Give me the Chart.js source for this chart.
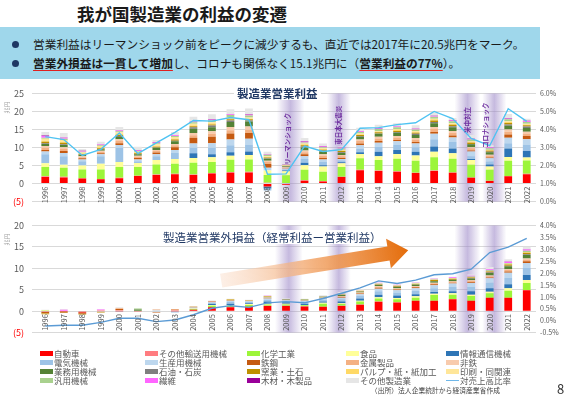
<!DOCTYPE html>
<html lang="ja">
<head>
<meta charset="utf-8">
<title>我が国製造業の利益の変遷</title>
<script src="https://cdn.jsdelivr.net/npm/chart.js@4.4.0/dist/chart.umd.min.js"></script>
<style>
  html, body { margin: 0; padding: 0; }
  body { width: 576px; height: 396px; position: relative; overflow: hidden; background: #fff;
         font-family: "Noto Sans CJK JP", "Noto Sans", sans-serif; color: #1a1a1a; }
  #title { position: absolute; left: 77px; top: 2px; font-size: 17.5px; line-height: 24px; font-weight: bold; white-space: nowrap; }
  #box { position: absolute; left: 0; top: 27px; width: 540px; height: 52px; background: #9fd7eb; }
  .row { position: absolute; left: 33px; font-size: 11.7px; line-height: 16px; white-space: nowrap; }
  .row::before { content: ""; position: absolute; left: -21px; top: 4.5px; width: 7px; height: 7px; border-radius: 50%; background: #1f3864; }
  .u { font-weight: bold; text-decoration: underline; text-decoration-color: #e02020; text-underline-offset: 2px; }
  canvas { position: absolute; left: 0; }
  .ctitle { position: absolute; background: #fff; color: #203864; font-size: 11.5px; line-height: 14px; padding: 0 3px; white-space: nowrap; }
  #legend div { position: absolute; font-size: 8.5px; color: #595959; line-height: 10px; white-space: nowrap; }
  #legend i { display: inline-block; width: 13px; height: 5px; margin-right: 1px; vertical-align: 1px; }
  #source { position: absolute; right: 76px; top: 386px; font-size: 6.8px; line-height: 9px; color: #404040; white-space: nowrap; }
  #page { position: absolute; left: 557px; top: 379px; font-size: 13px; color: #333; }
</style>
</head>
<body>
<div id="title">我が国製造業の利益の変遷</div>
<div id="box">
  <div class="row" style="top:9px">営業利益はリーマンショック前をピークに減少するも、直近では2017年に20.5兆円をマーク。</div>
  <div class="row" style="top:28px"><span class="u">営業外損益は一貫して増加</span>し、コロナも関係なく15.1兆円に（<span class="u">営業利益の77%</span>）。</div>
</div>

<canvas id="opChart" width="576" height="135" style="top:80px"></canvas>
<canvas id="nonOpChart" width="576" height="134" style="top:212px"></canvas>

<div class="ctitle" style="left:234px; top:86px; font-weight:bold">製造業営業利益</div>
<div class="ctitle" style="left:160px; top:230px">製造業営業外損益（経常利益ー営業利益）</div>

<div id="legend"></div>
<div id="source">（出所）法人企業統計から経済産業省作成</div>
<div id="page">8</div>

<script>
// ---- データ（兆円）----
const years = ['1996','1997','1998','1999','2000','2001','2002','2003','2004','2005','2006','2007','2008',
               '2009','2010','2011','2012','2013','2014','2015','2016','2017','2018','2019','2020','2021','2022'];

const seriesNames = ['自動車','その他輸送用機械','化学工業','食品','情報通信機械',
                     '電気機械','生産用機械','鉄鋼','金属製品','非鉄',
                     '業務用機械','石油・石炭','窯業・土石','パルプ・紙・紙加工','印刷・同関連',
                     '汎用機械','繊維','木材・木製品','その他製造業'];
const seriesColors = ['#ff0000','#ff7c80','#9cf53a','#ffff99','#2e75b6',
                      '#9dc3e6','#bdd7ee','#c55a11','#f4b183','#f8cbad',
                      '#548235','#7f7f7f','#bf9000','#ffd966','#ffe699',
                      '#a9d18e','#ff66ff','#990099','#e6e6e6'];

// 営業利益
const opAuto      = [1.8,1.7,1.4,1.2,1.5,2.1,2.4,2.6,2.4,2.8,3.0,3.1,-0.8,-0.3,0.8,0.6,1.8,3.7,3.5,3.3,2.9,3.5,3.0,1.6,0.7,2.0,2.6];
const opTransport = [0.2,0.2,0.1,0.1,0.1,0.1,0.1,0.1,0.1,0.1,0.2,0.2,0.2,-0.1,0.1,0.1,0.1,0.1,0.1,0.1,0.1,0.1,0.1,0.1,0.1,0.1,0.1];
const opChem      = [2.6,2.5,2.4,2.6,3.0,2.4,2.8,2.8,3.3,3.1,3.4,3.4,2.2,2.3,2.9,2.6,2.7,3.2,2.9,3.5,3.3,3.7,3.8,3.5,3.0,4.2,3.7];
const opFood      = [1.0,0.8,1.1,1.6,1.4,1.1,1.2,1.3,1.3,1.3,1.1,1.2,1.2,1.1,1.3,1.4,1.0,1.2,1.1,1.3,1.5,1.5,1.5,1.3,0.9,1.1,0.8];
const opInfo      = [0,0,0,0,0,0,0,0,1.3,0.8,1.0,1.0,-0.6,0.2,0.7,0.4,0.3,0.5,1.2,1.1,1.0,1.5,1.3,0.3,0.6,2.3,1.8];
const opElec      = [2.5,2.4,1.2,2.1,3.9,0.5,1.1,1.7,1.5,1.8,1.9,1.9,-0.5,0.3,1.0,0.9,0.5,1.0,1.4,1.4,1.3,2.0,1.8,0.8,0.8,1.5,1.8];
const opProd      = [0.8,0.9,0.5,0.5,0.8,0.5,0.5,0.8,1.2,1.3,1.6,1.6,0.8,0.2,0.8,0.7,0.4,0.9,1.1,1.0,1.0,1.5,1.3,1.3,0.9,1.5,1.5];
const opSteel     = [0.4,0.5,0.3,0.3,0.5,0.4,0.5,0.8,1.6,1.8,1.7,1.6,1.0,0.1,0.5,0.4,0.3,0.5,0.5,0.4,0.4,0.5,0.5,0.3,0.2,0.9,0.9];
const opMetal     = [0.6,0.6,0.3,0.4,0.6,0.3,0.4,0.5,0.7,0.8,0.9,0.9,0.6,0.2,0.6,0.6,0.5,0.7,0.7,0.7,0.7,0.8,0.8,0.6,0.5,0.8,0.7];
const opNonFerrous= [0.5,0.5,0.3,0.3,0.5,0.3,0.3,0.4,0.6,0.7,0.9,0.9,0.3,0.1,0.5,0.4,0.3,0.4,0.5,0.4,0.4,0.6,0.5,0.3,0.3,0.6,0.5];
const opBusiness  = [0.6,0.6,0.3,0.4,0.6,0.4,0.6,0.7,1.2,1.1,1.4,1.4,0.6,0.2,0.8,0.7,0.6,0.8,0.8,0.9,0.9,1.0,1.0,0.8,0.7,1.0,1.0];
const opOil       = [0.2,0.2,0.1,0.1,0.3,0.1,0.1,0.2,0.4,0.5,0.4,0.3,0.1,0.1,0.3,0.3,0.2,0.2,0.1,0.2,0.3,0.4,0.3,0.1,0.1,0.4,0.4];
const opCeramic   = [0.4,0.4,0.2,0.2,0.3,0.2,0.2,0.3,0.3,0.3,0.3,0.3,0.2,0.1,0.3,0.3,0.3,0.3,0.3,0.3,0.3,0.4,0.4,0.3,0.3,0.4,0.4];
const opPulp      = [0.3,0.3,0.2,0.3,0.3,0.2,0.3,0.3,0.3,0.3,0.3,0.2,0.2,0.1,0.3,0.2,0.2,0.2,0.2,0.3,0.3,0.3,0.2,0.2,0.2,0.3,0.2];
const opPrint     = [0.5,0.5,0.2,0.3,0.4,0.2,0.4,0.4,0.4,0.3,0.3,0.3,0.2,0.1,0.2,0.2,0.2,0.2,0.2,0.2,0.2,0.2,0.2,0.2,0.1,0.2,0.2];
const opGeneral   = [0.3,0.3,0.2,0.2,0.3,0.2,0.3,0.3,0.4,0.5,0.6,0.6,0.4,0.1,0.3,0.3,0.3,0.4,0.5,0.5,0.4,0.5,0.6,0.5,0.4,0.5,0.5];
const opTextile   = [0.5,0.3,0.2,0.2,0.2,0.2,0.2,0.2,0.2,0.2,0.2,0.2,0.1,0.1,0.2,0.2,0.2,0.2,0.2,0.2,0.2,0.2,0.2,0.2,0.2,0.2,0.2];
const opWood      = [0.1,0.1,0.1,0.1,0.1,0.1,0.1,0.1,0.1,0.1,0.1,0.1,0.1,0.05,0.1,0.1,0.1,0.1,0.1,0.1,0.1,0.1,0.1,0.1,0.1,0.1,0.1];
const opOther     = [1.0,1.2,0.5,0.7,0.9,0.9,0.6,0.8,1.2,1.4,1.3,1.6,0.6,0.3,0.9,0.7,0.3,0.9,0.9,0.8,0.9,1.0,0.6,1.0,0.5,1.2,0.6];
const opRatio     = [3.6,3.44,2.56,2.9,3.8,2.66,3.26,3.84,4.5,4.46,4.66,4.54,1.52,1.54,3.08,2.78,2.88,4.07,4.1,4.27,4.37,5.0,4.6,3.5,3.1,5.15,4.45];

// 営業外損益
const noAuto      = [-0.2,-0.1,-0.3,0,-0.1,-0.1,0,-0.1,0.3,0.9,0.9,1.0,1.2,1.2,1.1,1.0,1.2,1.5,2.2,2.0,2.4,2.4,2.8,2.4,3.1,3.1,4.9];
const noTransport = [0,0,0,0.2,0.2,0.1,0,0.2,0.05,0.05,0.05,0.05,0.05,0.05,0.05,0.05,0.05,0.05,0.05,0.05,0.05,0.05,0.05,0.05,0.05,0.05,0.05];
const noChem      = [0.05,0,0,0,0,0,0,0,0.15,0.3,0.3,0.4,0.3,0.3,0.2,0.7,0.4,0.7,0.7,0.7,0.7,1.3,1.0,1.1,1.0,1.6,1.6];
const noFood      = [0.1,0,0,0,0,0,0,0,0.1,0.2,0.2,0.2,0.2,0.2,0.1,0.2,0.2,0.2,0.3,0.3,0.3,0.3,0.3,0.3,0.4,0.6,0.7];
const noInfo      = [0,0,0,0,0,0,0,0,0,0.2,0.3,0.2,0.5,0.3,0.3,0.3,0.4,0.5,0.6,0.6,0.5,0.4,0.5,0.8,0.8,0.9,1.2];
const noElec      = [0,0.1,0,0,-0.1,0,-0.2,-0.2,0.15,0.3,0.4,0.3,0.4,0.3,0.4,0.4,0.5,0.6,0.8,0.7,0.8,0.9,1.0,1.0,1.3,1.5,1.6];
const noProd      = [0,0,0,0,0,0,0.2,0,0.1,0.15,0.2,0.15,0.3,0.2,0.3,0.3,0.4,0.4,0.6,0.5,0.6,0.7,0.8,0.9,1.0,1.2,1.2];
const noSteel     = [-0.2,-0.2,-0.3,-0.2,0.3,0,-0.1,0.1,0.1,0.1,0.1,0.05,0.1,0.05,0.05,0.1,0.15,0.15,0.2,0.2,0.2,0.2,0.2,0.2,0.2,0.3,0.4];
const noMetal     = [-0.1,0,0,0,0.2,0,0.2,0.2,0.05,0.05,0.05,0.05,0.1,0.05,0.05,0.1,0.15,0.15,0.2,0.2,0.2,0.25,0.25,0.3,0.3,0.35,0.4];
const noNonFerrous= [0,0,0,0,0,0,0,0,0,0,0.05,0,0.05,0,0,0.05,0.1,0.1,0.15,0.1,0.1,0.1,0.1,0.15,0.15,0.2,0.25];
const noBusiness  = [0,0,0,0,0,0.3,0,0,0,0,0.05,0.05,0.05,0.1,0.1,0.1,0.2,0.2,0.3,0.3,0.3,0.4,0.3,0.4,0.6,0.7,0.8];
const noOil       = [0,0,0,0,0,0,0,0,0,0,0,0,0.05,0,0,0.05,0.05,0.05,0.05,0.05,0.05,0.05,0.05,0.05,0.1,0.1,0.15];
const noCeramic   = [-0.2,-0.1,-0.2,-0.1,0,0,0,0,0.1,0.05,0.1,0.1,0.1,0.05,0.05,0.05,0.1,0.1,0.15,0.15,0.15,0.2,0.2,0.2,0.25,0.3,0.4];
const noPulp      = [0,0,0,0,0,0,0,0,0,0,0.05,0,0.05,0,0,0,0.05,0.05,0.05,0.05,0.05,0.05,0.05,0.05,0.05,0.1,0.1];
const noPrint     = [0,0,0,0,0,0,0,0,0,0,0,0,0.05,0,0,0,0.05,0.05,0.05,0.05,0.05,0.05,0.05,0.05,0.05,0.05,0.05];
const noGeneral   = [0,0,0,0,0,0.2,0,0,0,0,0,0,0.05,0.05,0.05,0.05,0.1,0.1,0.1,0.1,0.1,0.1,0.1,0.15,0.2,0.2,0.3];
const noTextile   = [0,0.2,0,0.2,0,0,0,0,0,0.05,0.05,0,0.05,0,0,0.05,0.05,0.05,0.1,0.1,0.1,0.1,0.15,0.15,0.2,0.3,0.3];
const noWood      = [0,0,0,0,0,0,0,0,0,0,0,0,0,0,0,0,0,0,0,0,0,0,0,0,0.05,0.05,0.05];
const noOther     = [0.2,0.2,0.1,0.1,0.2,0.1,0.1,0,0.1,0.15,0.1,0.1,0.1,0.1,0.15,0.2,0.25,0.1,0.1,0.05,0.15,0.2,0.1,0.3,0.5,0.5,0.6];
const noRatio     = [-0.22,-0.19,-0.19,-0.07,0.1,0.1,-0.04,0.03,0.25,0.52,0.63,0.56,0.75,0.8,0.75,0.93,1.15,1.38,1.67,1.56,1.7,1.93,1.97,2.16,2.86,3.09,3.46];

const opValues = [opAuto,opTransport,opChem,opFood,opInfo,opElec,opProd,opSteel,opMetal,opNonFerrous,
                  opBusiness,opOil,opCeramic,opPulp,opPrint,opGeneral,opTextile,opWood,opOther];
const noValues = [noAuto,noTransport,noChem,noFood,noInfo,noElec,noProd,noSteel,noMetal,noNonFerrous,
                  noBusiness,noOil,noCeramic,noPulp,noPrint,noGeneral,noTextile,noWood,noOther];

const FONT = '"Noto Sans CJK JP", "Noto Sans", sans-serif';

// 背景の帯・注記・矢印（x は年の並び順、y は左軸の値）
const decor = {
  id: 'decor',
  beforeDatasetsDraw(chart, args, opts) {
    const { ctx, chartArea: a, scales: { x } } = chart;
    ctx.save();
    (opts.bands || []).forEach(b => {
      const x0 = x.getPixelForValue(b[0]), x1 = x.getPixelForValue(b[1]);
      const g = ctx.createLinearGradient(x0, 0, x1, 0);
      g.addColorStop(0, 'rgba(150,128,196,0)');
      g.addColorStop(0.5, 'rgba(150,128,196,0.55)');
      g.addColorStop(1, 'rgba(150,128,196,0)');
      ctx.fillStyle = g;
      ctx.fillRect(x0, a.top, x1 - x0, a.bottom - a.top);
    });
    if (opts.arrow) {
      const { y } = chart.scales;
      const s = [x.getPixelForValue(opts.arrow.from[0]), y.getPixelForValue(opts.arrow.from[1])];
      const t = [x.getPixelForValue(opts.arrow.to[0]), y.getPixelForValue(opts.arrow.to[1])];
      const len = Math.hypot(t[0] - s[0], t[1] - s[1]);
      const u = [(t[0] - s[0]) / len, (t[1] - s[1]) / len], n = [-u[1], u[0]];
      const hw = 7, hh = 15, hl = 20;
      const b = [t[0] - u[0] * hl, t[1] - u[1] * hl];
      const g = ctx.createLinearGradient(s[0], s[1], t[0], t[1]);
      g.addColorStop(0, 'rgba(250,220,200,0.45)');
      g.addColorStop(0.5, 'rgba(242,165,105,0.85)');
      g.addColorStop(1, '#e46c0a');
      ctx.fillStyle = g;
      ctx.beginPath();
      ctx.moveTo(s[0] + n[0] * hw, s[1] + n[1] * hw);
      ctx.lineTo(b[0] + n[0] * hw, b[1] + n[1] * hw);
      ctx.lineTo(b[0] + n[0] * hh, b[1] + n[1] * hh);
      ctx.lineTo(t[0], t[1]);
      ctx.lineTo(b[0] - n[0] * hh, b[1] - n[1] * hh);
      ctx.lineTo(b[0] - n[0] * hw, b[1] - n[1] * hw);
      ctx.lineTo(s[0] - n[0] * hw, s[1] - n[1] * hw);
      ctx.closePath();
      ctx.fill();
    }
    ctx.restore();
  },
  afterDatasetsDraw(chart, args, opts) {
    const { ctx, chartArea: a, scales: { x, y } } = chart;
    ctx.save();
    // 年ラベル（0 の線の下に縦書き）
    const y0 = y.getPixelForValue(0);
    ctx.font = '7.5px ' + FONT;
    ctx.fillStyle = '#595959';
    ctx.textAlign = 'right';
    ctx.textBaseline = 'middle';
    years.forEach((yr, i) => {
      ctx.save();
      ctx.translate(x.getPixelForValue(i), y0 + 3);
      ctx.rotate(-Math.PI / 2);
      ctx.fillText(yr, 0, 0);
      ctx.restore();
    });
    // 出来事の注記
    ctx.font = 'bold 6.5px ' + FONT;
    ctx.fillStyle = '#7030a0';
    ctx.textAlign = 'center';
    (opts.notes || []).forEach(nt => {
      ctx.save();
      ctx.translate(x.getPixelForValue(nt.x), y.getPixelForValue(nt.y));
      ctx.rotate(-Math.PI / 2);
      ctx.fillText(nt.text, 0, 0);
      ctx.restore();
    });
    // 単位
    ctx.font = '6px ' + FONT;
    ctx.fillStyle = '#a6a6a6';
    ctx.save();
    ctx.translate(a.left - 29, a.top + 14);
    ctx.rotate(-Math.PI / 2);
    ctx.fillText('兆円', 0, 0);
    ctx.restore();
    ctx.restore();
  }
};

function buildDatasets(values, ratio, lineColor) {
  const ds = values.map((v, i) => ({
    type: 'bar', label: seriesNames[i], data: v, backgroundColor: seriesColors[i],
    yAxisID: 'y', stack: 's', order: 1, barPercentage: 0.42, categoryPercentage: 1, borderWidth: 0
  }));
  ds.push({ type: 'line', label: '対売上高比率', data: ratio, yAxisID: 'y2', order: 0,
            borderColor: lineColor, borderWidth: 1.4, pointRadius: 0, tension: 0, fill: false });
  return ds;
}

function makeChart(id, datasets, yMin, yMax, y2Min, y2Max, y2Step, pad, decorOpts) {
  return new Chart(document.getElementById(id), {
    data: { labels: years, datasets },
    options: {
      responsive: false,
      animation: false,
      layout: { padding: { top: pad[0], bottom: pad[1], left: 0, right: 0 } },
      plugins: { legend: { display: false }, tooltip: { enabled: false }, decor: decorOpts },
      scales: {
        x: { stacked: true, display: false, offset: true },
        y: {
          stacked: true, position: 'left', min: yMin, max: yMax,
          border: { display: false },
          grid: { color: '#d9d9d9', tickLength: 4, drawTicks: true },
          ticks: {
            stepSize: 5, padding: 8, font: { size: 9, family: FONT },
            color: c => (c.tick && c.tick.value < 0) ? '#ff0000' : '#595959',
            callback: v => v < 0 ? '(' + Math.abs(v) + ')' : v
          },
          afterFit: s => { s.width = 36; }
        },
        y2: {
          position: 'right', min: y2Min, max: y2Max,
          border: { display: false },
          grid: { display: false, drawTicks: false },
          ticks: { stepSize: y2Step, padding: 4, font: { size: 7, family: FONT }, color: '#595959',
                   callback: v => v.toFixed(1) + '%' },
          afterFit: s => { s.width = 40; }
        }
      }
    },
    plugins: [decor]
  });
}

makeChart('opChart', buildDatasets(opValues, opRatio, '#4fc3f2'), -5, 25, 0, 6, 1, [8, 6], {
  bands: [[12.5, 14.0], [15.2, 16.5], [22.1, 23.5], [23.6, 24.9]],
  notes: [
    { text: 'リーマンショック', x: 13.1, y: 12.4 },
    { text: '東日本大震災', x: 15.85, y: 16.2 },
    { text: '米中対立', x: 22.8, y: 17.6 },
    { text: 'コロナショック', x: 23.75, y: 16.2 }
  ]
});

makeChart('nonOpChart', buildDatasets(noValues, noRatio, '#5b9bd5'), -5, 20, -0.5, 4.0, 0.5, [7, 7], {
  bands: [[12.4, 13.9], [15.2, 16.5], [22.1, 23.5], [23.6, 24.9]],
  arrow: { from: [9.5, 7.1], to: [19.6, 14.2] }
});

// 凡例
const legendCols = [40, 145, 247, 346, 446];
const legendRows = [348, 357, 366, 375];
const legend = document.getElementById('legend');
seriesNames.concat(['対売上高比率']).forEach((name, i) => {
  const d = document.createElement('div');
  d.style.left = legendCols[i % 5] + 'px';
  d.style.top = legendRows[Math.floor(i / 5)] + 'px';
  const sw = i < seriesNames.length
    ? '<i style="background:' + seriesColors[i] + '"></i>'
    : '<i style="height:1.5px; vertical-align:3px; background:#6fb7e9"></i>';
  d.innerHTML = sw + name;
  legend.appendChild(d);
});
</script>
</body>
</html>
